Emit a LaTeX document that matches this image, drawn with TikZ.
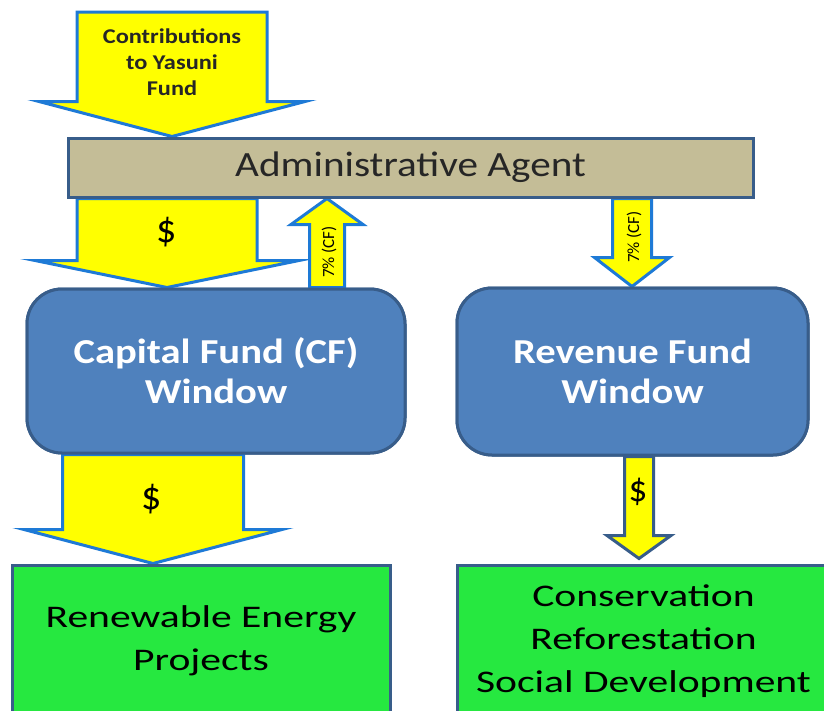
\documentclass[tikz,border=0pt]{standalone}
\usepackage{fontspec}
\setmainfont{Carlito}
\newfontfamily\wideface[FakeStretch=1.16]{Carlito}
\newfontfamily\widerface[FakeStretch=1.32]{Carlito}
\usetikzlibrary{calc}

\definecolor{flowfill}{RGB}{255,255,0}
\definecolor{flowline}{RGB}{30,122,214}
\definecolor{boxline}{RGB}{56,93,138}
\definecolor{agentfill}{RGB}{196,189,151}
\definecolor{windowfill}{RGB}{79,129,189}
\definecolor{projectfill}{RGB}{38,232,64}

\tikzset{
  % block arrow pointing down: shaft half width, head half width, head length
  blockdown/.style n args={3}{to path={
    let \p1=(\tikztostart), \p2=(\tikztotarget) in
    (\x2-#1pt,\y1) -- (\x2+#1pt,\y1) -- (\x2+#1pt,\y2+#3pt) -- (\x2+#2pt,\y2+#3pt)
    -- (\x2,\y2) -- (\x2-#2pt,\y2+#3pt) -- (\x2-#1pt,\y2+#3pt) -- cycle}},
  % block arrow pointing up
  blockup/.style n args={3}{to path={
    let \p1=(\tikztostart), \p2=(\tikztotarget) in
    (\x2-#1pt,\y1) -- (\x2+#1pt,\y1) -- (\x2+#1pt,\y2-#3pt) -- (\x2+#2pt,\y2-#3pt)
    -- (\x2,\y2) -- (\x2-#2pt,\y2-#3pt) -- (\x2-#1pt,\y2-#3pt) -- cycle}},
  flow/.style={fill=flowfill, draw=flowline, line width=3pt, line join=miter},
  flowdark/.style={fill=flowfill, draw=boxline, line width=3pt, line join=miter},
  agentbox/.style={draw=boxline, fill=agentfill, line width=3pt, inner sep=0pt,
    minimum width=685pt, minimum height=59pt,
    font=\wideface\fontsize{35.5}{40}\selectfont, text=black!85},
  windowbox/.style={draw=boxline, fill=windowfill, line width=3pt, inner sep=0pt,
    rounded corners=35pt, align=center, text=white,
    font=\wideface\bfseries\fontsize{35}{40}\selectfont},
  projectbox/.style={draw=boxline, fill=projectfill, line width=3pt, inner sep=0pt,
    align=center, text=black, font=\widerface\fontsize{31.5}{43}\selectfont},
  flowtext/.style={inner sep=0pt, align=center, text=black!85,
    font=\wideface\bfseries\fontsize{21}{26}\selectfont},
  dollar/.style={inner sep=0pt, text=black, font=\fontsize{#1}{#1}\selectfont},
  sidetext/.style={inner sep=0pt, rotate=90, text=black,
    font=\fontsize{17}{17}\selectfont},
}

\begin{document}
\begin{tikzpicture}[x=1pt, y=-1pt]
  \useasboundingbox (0,0) rectangle (824,710);

  % boxes (positions only; drawn again on top of the arrows below)
  \path
    node[agentbox] (admin) at (410.5,167.5) {}
    node[windowbox, minimum width=378pt, minimum height=164pt] (capital) at (216,371) {}
    node[windowbox, minimum width=351pt, minimum height=167pt] (revenue) at (632.5,371.5) {}
    node[projectbox, minimum width=378pt, minimum height=152pt] (renew) at (201,641) {}
    node[projectbox, minimum width=373pt, minimum height=152pt] (conserve) at (643.5,641) {};

  % anchor columns for the arrows
  \coordinate (top) at (172,12);
  \coordinate (colA) at (167,0);
  \coordinate (colB) at (327,0);
  \coordinate (colC) at (632,0);
  \coordinate (colD) at (153,0);
  \coordinate (colE) at (639,0);

  % money flows
  \draw[flow] (top) to[blockdown={95}{133}{35}] (top |- admin.north);
  \draw[flow] (colA |- admin.south) to[blockdown={90}{132}{27}] (colA |- capital.north);
  \draw[flow] (colB |- capital.north) to[blockup={17.5}{36}{26}] (colB |- admin.south);
  \draw[flow] (colC |- admin.south) to[blockdown={19.5}{37.5}{29}] (colC |- revenue.north);
  \draw[flow] (colD |- capital.south) to[blockdown={90.5}{129}{34}] (colD |- renew.north);
  \draw[flowdark] (colE |- revenue.south) to[blockdown={14.5}{32}{23}] ($(colE |- conserve.north)+(0,-5)$);

  % boxes with their texts
  \node[agentbox] (admin) at (410.5,167.5) {Administrative Agent};
  \node[windowbox, minimum width=378pt, minimum height=164pt] (capital) at (216,371)
    {Capital Fund (CF)\\Window};
  \node[windowbox, minimum width=351pt, minimum height=167pt] (revenue) at (632.5,371.5)
    {Revenue Fund\\Window};
  \node[projectbox, minimum width=378pt, minimum height=152pt] (renew) at (201,641)
    {Renewable Energy\\Projects};
  \node[projectbox, minimum width=373pt, minimum height=152pt] (conserve) at (643.5,641)
    {Conservation\\Reforestation\\Social Development};

  % arrow labels
  \node[flowtext] (contrib) at (172,62) {Contributions\\to Yasuni\\Fund};
  \node[dollar=40] (usdA) at (167,232) {\$};
  \node[dollar=40] (usdB) at (152,499) {\$};
  \node[dollar=37] (usdC) at (638,492) {\$};
  \node[sidetext] (feeUp) at (329,252) {7\% (CF)};
  \node[sidetext] (feeDown) at (634,237) {7\% (CF)};
\end{tikzpicture}
\end{document}
